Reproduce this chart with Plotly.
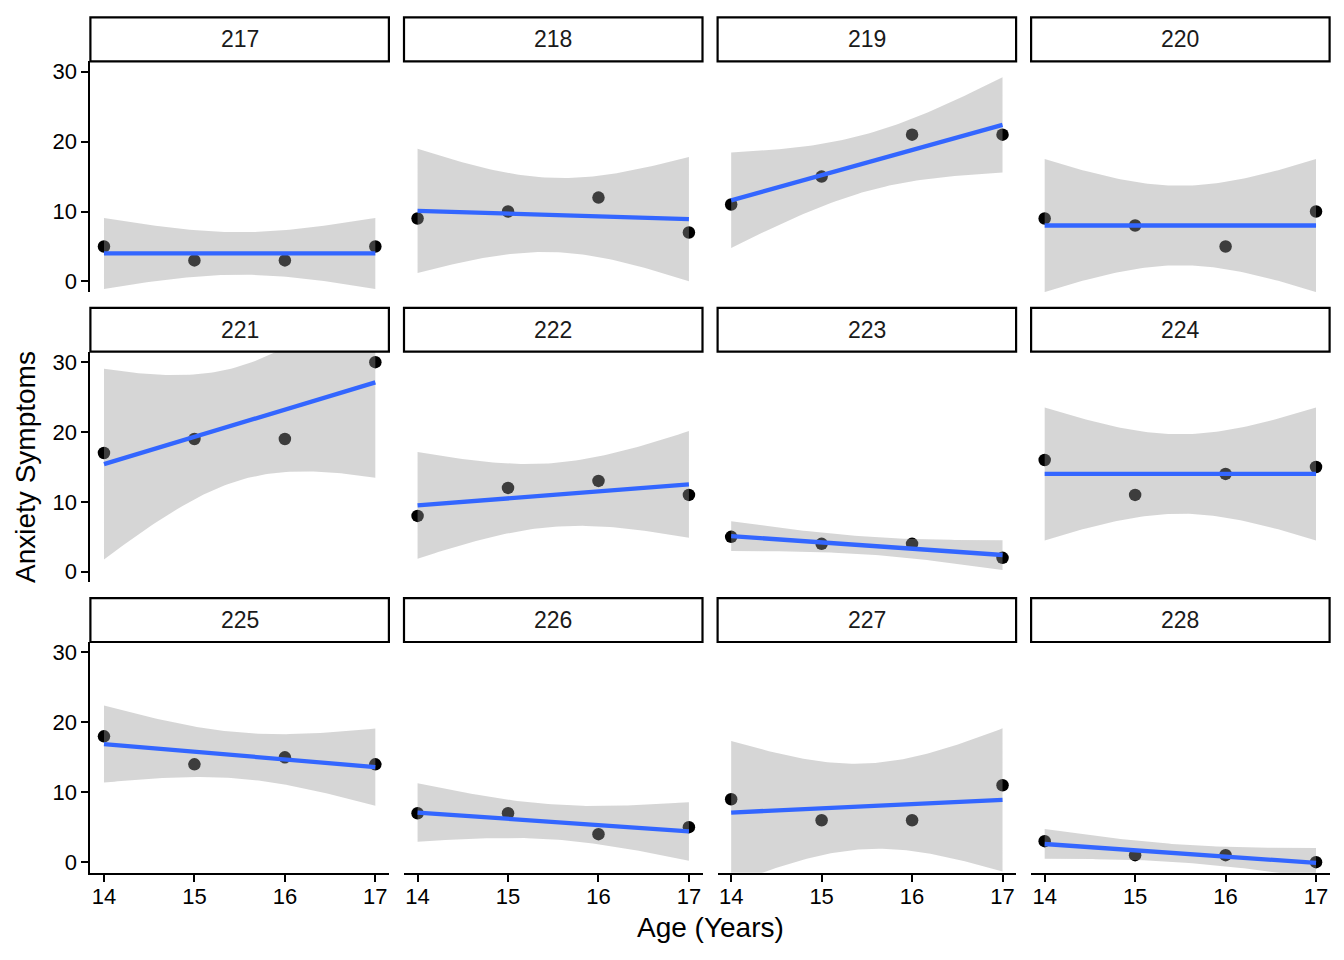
import numpy as np
import plotly.graph_objects as go

# ---------------- data ----------------
ids = ["217", "218", "219", "220", "221", "222", "223", "224", "225", "226", "227", "228"]
ages = [14, 15, 16, 17]
s217 = [5, 3, 3, 5]
s218 = [9, 10, 12, 7]
s219 = [11, 15, 21, 21]
s220 = [9, 8, 5, 10]
s221 = [17, 19, 19, 30]
s222 = [8, 12, 13, 11]
s223 = [5, 4, 4, 2]
s224 = [16, 11, 14, 15]
s225 = [18, 14, 15, 14]
s226 = [7, 7, 4, 5]
s227 = [9, 6, 6, 11]
s228 = [3, 1, 1, 0]
series = [s217, s218, s219, s220, s221, s222, s223, s224, s225, s226, s227, s228]
x_ticks = [14, 15, 16, 17]
y_ticks = [0, 10, 20, 30]

# ---------------- layout geometry (pixels, page coords) ----------------
OFF = 8  # browser body margin
W, H = 1344 - 2 * OFF, 960 - 2 * OFF
col_left = [90.4, 404.0, 717.6, 1031.1]
pw = 298.5
row_top = [59.5, 351.1, 642.7]
ph = 231.6
strip_h = 44.0


def px(v):
    return (v - OFF) / W


def py(v):
    return 1 - (v - OFF) / H


T975 = 4.302653  # qt(0.975, df = 2)

fig = go.Figure()
FONT = "Liberation Sans, Arial, sans-serif"
shapes = []
annotations = []

for i, (pid, yv) in enumerate(zip(ids, series)):
    r, c = divmod(i, 4)
    k = "" if i == 0 else str(i + 1)
    xa, ya = "x" + k, "y" + k

    x = np.array(ages, dtype=float)
    y = np.array(yv, dtype=float)
    n = len(x)
    xbar, ybar = x.mean(), y.mean()
    sxx = ((x - xbar) ** 2).sum()
    b = ((x - xbar) * (y - ybar)).sum() / sxx
    a = ybar - b * xbar
    resid = y - (a + b * x)
    s = np.sqrt((resid ** 2).sum() / (n - 2))
    grid = np.linspace(x.min(), x.max(), 80)
    fit = a + b * grid
    se = s * np.sqrt(1.0 / n + (grid - xbar) ** 2 / sxx)
    upper = fit + T975 * se
    lower = fit - T975 * se

    fig.add_trace(go.Scatter(
        x=x, y=y, mode="markers", xaxis=xa, yaxis=ya,
        marker=dict(color="black", size=12.5, line=dict(width=0)),
        showlegend=False, hoverinfo="x+y"))
    fig.add_trace(go.Scatter(
        x=np.concatenate([grid, grid[::-1]]),
        y=np.concatenate([upper, lower[::-1]]),
        mode="lines", fill="toself", fillcolor="rgba(153,153,153,0.4)",
        line=dict(width=0), xaxis=xa, yaxis=ya,
        showlegend=False, hoverinfo="skip"))
    fig.add_trace(go.Scatter(
        x=grid, y=fit, mode="lines", line=dict(color="#3366FF", width=4.3),
        xaxis=xa, yaxis=ya, showlegend=False, hoverinfo="skip"))

    x0 = px(col_left[c])
    x1 = px(col_left[c] + pw)
    y1 = py(row_top[r])
    y0 = py(row_top[r] + ph)

    bottom = (r == 2)
    left = (c == 0)
    fig.layout["xaxis" + k] = dict(
        domain=[x0, x1], anchor=ya, range=[13.85, 17.15],
        tickmode="array", tickvals=x_ticks, ticktext=[str(t) for t in x_ticks],
        showgrid=False, zeroline=False,
        showline=bottom, linecolor="black", linewidth=2,
        ticks="outside" if bottom else "", ticklen=7, tickwidth=2, tickcolor="black",
        showticklabels=bottom, tickfont=dict(family=FONT, size=22, color="black"),
        ticklabelstandoff=-4,
        fixedrange=True)
    fig.layout["yaxis" + k] = dict(
        domain=[y0, y1], anchor=xa, range=[-1.5, 31.5],
        tickmode="array", tickvals=y_ticks, ticktext=[str(t) for t in y_ticks],
        showgrid=False, zeroline=False,
        showline=left, linecolor="black", linewidth=2,
        ticks="outside" if left else "", ticklen=7, tickwidth=2, tickcolor="black",
        showticklabels=left, tickfont=dict(family=FONT, size=22, color="black"),
        fixedrange=True)

    # strip
    sy0 = y1
    sy1 = py(row_top[r] - strip_h)
    shapes.append(dict(type="rect", xref="paper", yref="paper",
                       x0=x0, x1=x1, y0=sy0, y1=sy1,
                       fillcolor="white", line=dict(color="black", width=2.2)))
    annotations.append(dict(xref="paper", yref="paper", x=(x0 + x1) / 2, y=(sy0 + sy1) / 2,
                            text=pid, showarrow=False, xanchor="center", yanchor="middle",
                            font=dict(family=FONT, size=23, color="#1A1A1A")))

# axis titles
annotations.append(dict(xref="paper", yref="paper", x=px((col_left[0] + col_left[3] + pw) / 2),
                        y=py(929), text="Age (Years)", showarrow=False,
                        xanchor="center", yanchor="middle",
                        font=dict(family=FONT, size=28, color="black")))
annotations.append(dict(xref="paper", yref="paper", x=px(26),
                        y=py((row_top[0] + row_top[2] + ph) / 2), text="Anxiety Symptoms",
                        showarrow=False, textangle=-90, xanchor="center", yanchor="middle",
                        font=dict(family=FONT, size=28, color="black")))

fig.update_layout(width=W, height=H, margin=dict(l=0, r=0, t=0, b=0),
                  paper_bgcolor="white", plot_bgcolor="white",
                  shapes=shapes, annotations=annotations, showlegend=False,
                  font=dict(family=FONT))

fig.write_html("out.html")
